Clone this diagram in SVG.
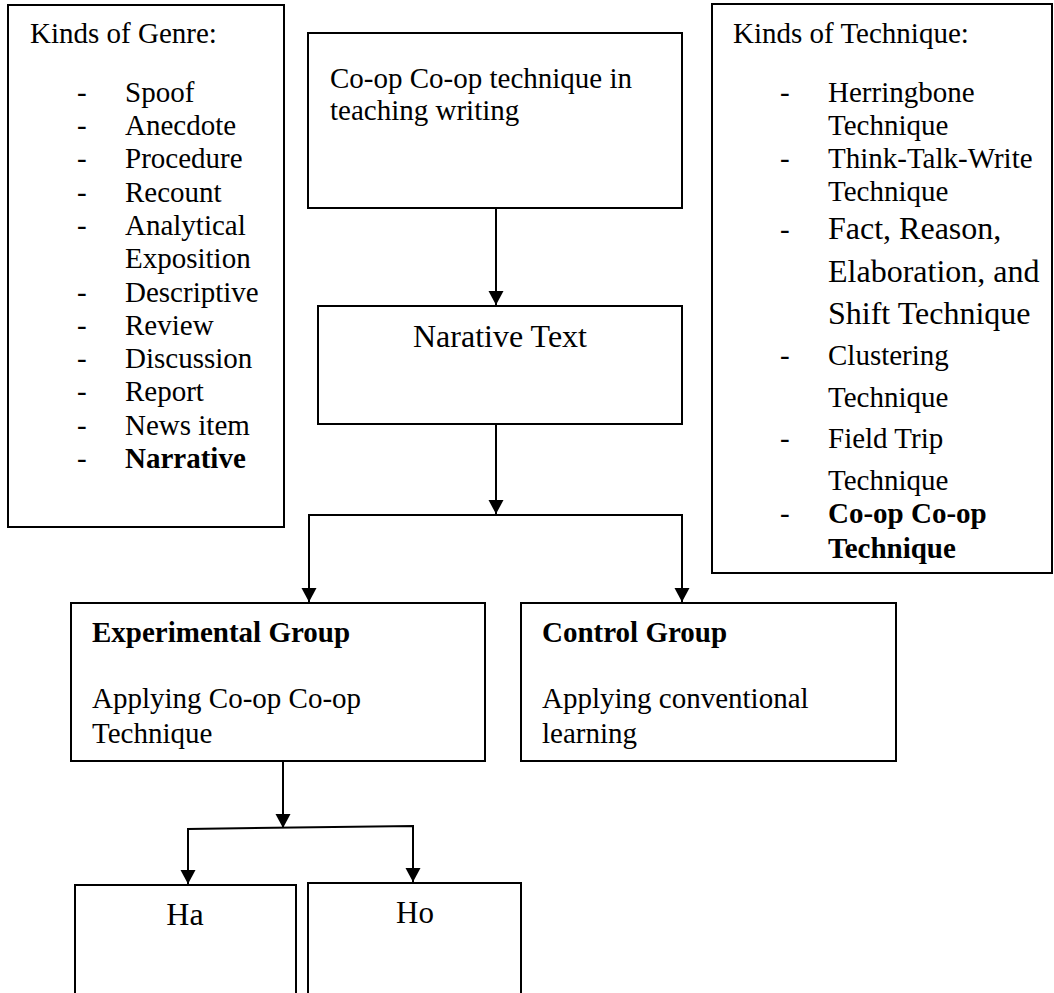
<svg xmlns="http://www.w3.org/2000/svg" width="1054" height="993" viewBox="0 0 1054 993">
<defs>
<style>
.box{fill:#fff;stroke:#000;stroke-width:2}
.t{font-family:"Liberation Serif","Times New Roman",serif;font-size:29px;fill:#000}
.big{font-size:32px}
.b{font-weight:bold}
.c{stroke:#000;stroke-width:2;fill:none}
</style>
<marker id="ah" markerUnits="userSpaceOnUse" markerWidth="16" markerHeight="16" refX="14" refY="7.5" orient="auto">
<path d="M0,0 L14,7.5 L0,15 z" fill="#000"/>
</marker>
</defs>
<rect width="1054" height="993" fill="#fff"/>

<g id="genre">
<rect class="box" x="8" y="5" width="276" height="522"/>
<text class="t" x="30" y="43">Kinds of Genre:</text>
<g class="t">
<text x="77" y="101.7">-</text><text x="125" y="101.7">Spoof</text>
<text x="77" y="135">-</text><text x="125" y="135">Anecdote</text>
<text x="77" y="168.3">-</text><text x="125" y="168.3">Procedure</text>
<text x="77" y="201.6">-</text><text x="125" y="201.6">Recount</text>
<text x="77" y="234.9">-</text><text x="125" y="234.9">Analytical</text>
<text x="125" y="268.2">Exposition</text>
<text x="77" y="301.5">-</text><text x="125" y="301.5">Descriptive</text>
<text x="77" y="334.8">-</text><text x="125" y="334.8">Review</text>
<text x="77" y="368.1">-</text><text x="125" y="368.1">Discussion</text>
<text x="77" y="401.4">-</text><text x="125" y="401.4">Report</text>
<text x="77" y="434.7">-</text><text x="125" y="434.7">News item</text>
<text x="77" y="468">-</text><text x="125" y="468" class="b">Narrative</text>
</g>
</g>

<g id="technique">
<rect class="box" x="712" y="4" width="340" height="569"/>
<text class="t" x="733" y="43">Kinds of Technique:</text>
<g class="t">
<text x="780" y="101.7">-</text><text x="828" y="101.7">Herringbone</text>
<text x="828" y="135">Technique</text>
<text x="780" y="167.5">-</text><text x="828" y="167.5">Think-Talk-Write</text>
<text x="828" y="201">Technique</text>
<text x="780" y="239">-</text><text x="828" y="239" class="big">Fact, Reason,</text>
<text x="828" y="282" class="big">Elaboration, and</text>
<text x="828" y="324" class="big">Shift Technique</text>
<text x="780" y="365">-</text><text x="828" y="365">Clustering</text>
<text x="828" y="407">Technique</text>
<text x="780" y="448">-</text><text x="828" y="448">Field Trip</text>
<text x="828" y="490">Technique</text>
<text x="780" y="523">-</text><text x="828" y="523" class="b">Co-op Co-op</text>
<text x="828" y="558" class="b">Technique</text>
</g>
</g>

<g id="topic">
<rect class="box" x="308" y="33" width="374" height="175"/>
<text class="t" x="330" y="88">Co-op Co-op technique in</text>
<text class="t" x="330" y="120">teaching writing</text>
</g>

<g id="narrative">
<rect class="box" x="318" y="306" width="364" height="118"/>
<text class="t big" x="500" y="347" text-anchor="middle">Narative Text</text>
</g>

<g id="experimental">
<rect class="box" x="71" y="603" width="414" height="158"/>
<text class="t b" x="92" y="642">Experimental Group</text>
<text class="t" x="92" y="708">Applying Co-op Co-op</text>
<text class="t" x="92" y="743">Technique</text>
</g>

<g id="control">
<rect class="box" x="521" y="603" width="375" height="158"/>
<text class="t b" x="542" y="642">Control Group</text>
<text class="t" x="542" y="708">Applying conventional</text>
<text class="t" x="542" y="743">learning</text>
</g>

<g id="ha">
<rect class="box" x="75" y="885" width="221" height="130"/>
<text class="t big" x="185" y="925" text-anchor="middle">Ha</text>
</g>

<g id="ho">
<rect class="box" x="308" y="883" width="213" height="130"/>
<text class="t" x="415" y="923" text-anchor="middle" style="font-size:31px">Ho</text>
</g>

<g id="connectors">
<line class="c" x1="496" y1="208" x2="496" y2="305" marker-end="url(#ah)"/>
<line class="c" x1="496" y1="424" x2="496" y2="514" marker-end="url(#ah)"/>
<polyline class="c" points="309,602 309,515 682,515 682,602" marker-end="url(#ah)"/>
<line class="c" x1="309" y1="515" x2="309" y2="602" marker-end="url(#ah)"/>
<line class="c" x1="283" y1="761" x2="283" y2="828" marker-end="url(#ah)"/>
<polyline class="c" points="188,884 188,829 413,826 413,882" marker-end="url(#ah)"/>
<line class="c" x1="188" y1="829" x2="188" y2="884" marker-end="url(#ah)"/>
</g>
</svg>
